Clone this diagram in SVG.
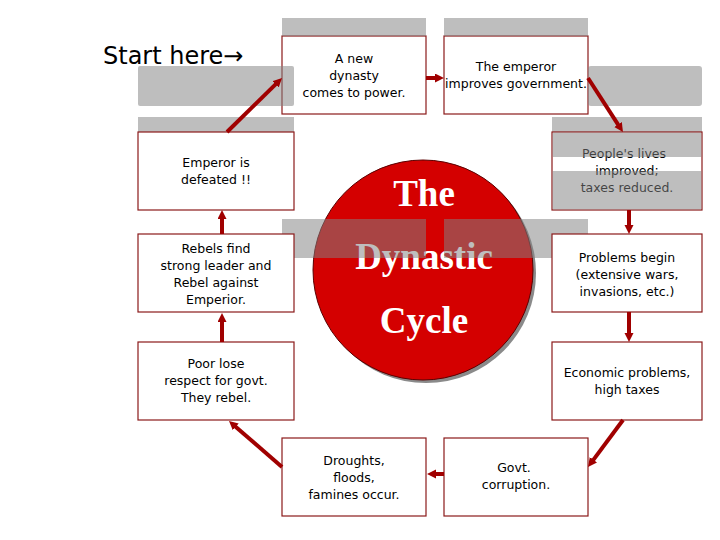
<svg xmlns="http://www.w3.org/2000/svg" width="720" height="540" viewBox="0 0 720 540">
<style>
.box{fill:#ffffff;stroke:#8b1a1a;stroke-width:1.2}
.bar{fill:#838383;fill-opacity:0.52}
.t{font-family:"DejaVu Sans",Verdana,sans-serif;font-size:12.5px;fill:#000;text-anchor:middle}
.c{font-family:"Liberation Serif","Times New Roman",serif;font-weight:bold;font-size:37px;fill:#ffffff;text-anchor:middle}
.arr{stroke:#a00000;stroke-width:4;fill:none;marker-end:url(#ah)}
</style>
<defs>
<marker id="ah" markerUnits="userSpaceOnUse" markerWidth="10" markerHeight="10" refX="1" refY="4.5" orient="auto">
<path d="M0,0 L9,4.5 L0,9 z" fill="#a00000"/>
</marker>
</defs>
<rect width="720" height="540" fill="#ffffff"/>
<text x="103" y="64" font-family="DejaVu Sans,sans-serif" font-size="24" fill="#000">Start here→</text>
<g id="n1"><rect class="box" x="282" y="36" width="144" height="78"/><text class="t"><tspan x="354" y="63">A new</tspan><tspan x="354" y="80">dynasty</tspan><tspan x="354" y="97">comes to power.</tspan></text></g>
<g id="n2"><rect class="box" x="444" y="36" width="144" height="78"/><text class="t"><tspan x="516" y="71">The emperor</tspan><tspan x="516" y="88">improves government.</tspan></text></g>
<g id="bars-top">
<rect class="bar" x="282" y="18" width="144" height="18"/>
<rect class="bar" x="444" y="18" width="144" height="18"/>
<rect class="bar" x="138" y="66" width="156" height="40" rx="2"/>
<rect class="bar" x="588" y="66" width="114" height="40" rx="3"/>
<rect class="bar" x="138" y="117" width="156" height="15"/>
<rect class="bar" x="552" y="117" width="150" height="15"/>
</g>
<g id="center">
<circle cx="426" cy="273" r="110" fill="#8a8a8a"/>
<circle cx="423" cy="270" r="110" fill="#d40000" stroke="#5a0000" stroke-width="1"/>
<text class="c" x="424" y="206">The</text>
<text class="c" x="424" y="269">Dynastic</text>
<text class="c" x="424" y="333">Cycle</text>
</g>
<g id="bars-mid">
<rect class="bar" x="282" y="219" width="144" height="39"/>
<rect class="bar" x="444" y="219" width="144" height="39"/>
</g>
<g id="n3"><rect class="box" x="552" y="132" width="150" height="78"/><text class="t"><tspan x="624" y="158">People's lives</tspan><tspan x="627" y="175">improved;</tspan><tspan x="627" y="192">taxes reduced.</tspan></text>
<rect class="bar" x="552.6" y="132.6" width="148.8" height="24.4"/><rect class="bar" x="552.6" y="171" width="148.8" height="38.4"/></g>
<g id="n4"><rect class="box" x="552" y="234" width="150" height="78"/><text class="t"><tspan x="627" y="262">Problems begin</tspan><tspan x="627" y="279">(extensive wars,</tspan><tspan x="627" y="296">invasions, etc.)</tspan></text></g>
<g id="n5"><rect class="box" x="552" y="342" width="150" height="78"/><text class="t"><tspan x="627" y="377">Economic problems,</tspan><tspan x="627" y="394">high taxes</tspan></text></g>
<g id="n6"><rect class="box" x="444" y="438" width="144" height="78"/><text class="t"><tspan x="514" y="472">Govt.</tspan><tspan x="516" y="489">corruption.</tspan></text></g>
<g id="n7"><rect class="box" x="282" y="438" width="144" height="78"/><text class="t"><tspan x="354" y="465">Droughts,</tspan><tspan x="354" y="482">floods,</tspan><tspan x="354" y="499">famines occur.</tspan></text></g>
<g id="n8"><rect class="box" x="138" y="342" width="156" height="78"/><text class="t"><tspan x="216" y="368">Poor lose</tspan><tspan x="216" y="385">respect for govt.</tspan><tspan x="216" y="402">They rebel.</tspan></text></g>
<g id="n9"><rect class="box" x="138" y="234" width="156" height="78"/><text class="t"><tspan x="216" y="253">Rebels find</tspan><tspan x="216" y="270">strong leader and</tspan><tspan x="216" y="287">Rebel against</tspan><tspan x="216" y="304">Emperior.</tspan></text></g>
<g id="n10"><rect class="box" x="138" y="132" width="156" height="78"/><text class="t"><tspan x="216" y="167">Emperor is</tspan><tspan x="216" y="184">defeated !!</tspan></text></g>
<g id="connectors">
<line class="arr" x1="227" y1="132" x2="276.3" y2="83.6"/>
<line class="arr" x1="426" y1="78" x2="436" y2="78"/>
<line class="arr" x1="588" y1="78" x2="618.6" y2="125.3"/>
<line class="arr" x1="629" y1="210" x2="629" y2="226"/>
<line class="arr" x1="629" y1="312" x2="629" y2="334"/>
<line class="arr" x1="623" y1="420" x2="592.8" y2="460.6"/>
<line class="arr" x1="444" y1="474" x2="435" y2="474"/>
<line class="arr" x1="282" y1="467" x2="235" y2="426.2"/>
<line class="arr" x1="222" y1="342" x2="222" y2="321"/>
<line class="arr" x1="222" y1="234" x2="222" y2="218"/>
</g>
</svg>
